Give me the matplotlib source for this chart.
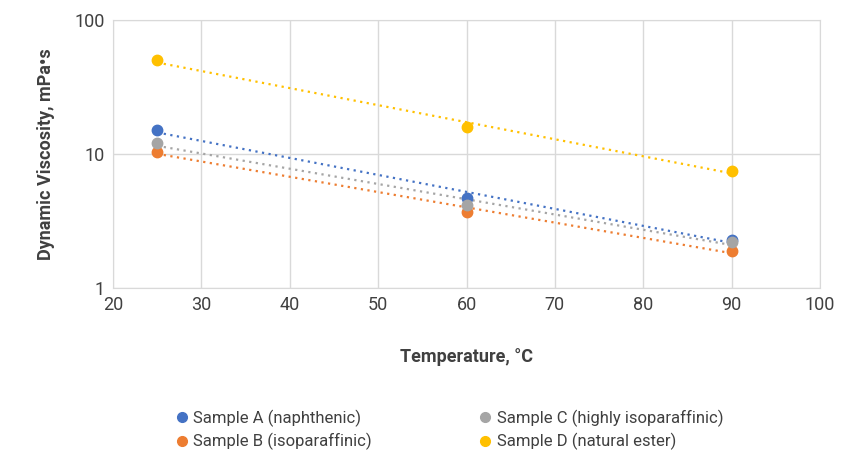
import numpy as np
import matplotlib
matplotlib.use("Agg")
import matplotlib.pyplot as plt
from matplotlib.lines import Line2D

plt.rcParams['font.family'] = ['Roboto', 'DejaVu Sans']

# Data
temps = [25, 60, 90]  # degC
sample_a = [15.2, 4.7, 2.3]
sample_b = [10.4, 3.7, 1.9]
sample_c = [12.0, 4.2, 2.2]
sample_d = [50.0, 15.9, 7.5]

labels = ['Sample A (naphthenic)', 'Sample B (isoparaffinic)',
          'Sample C (highly isoparaffinic)', 'Sample D (natural ester)']
colors = ['#4472C4', '#ED7D31', '#A5A5A5', '#FFC000']
series = [sample_a, sample_b, sample_c, sample_d]

fig = plt.figure(figsize=(8.56, 4.53), dpi=100)
ax = fig.add_axes([0.132, 0.364, 0.826, 0.592])

x = np.array(temps, dtype=float)
xfit = np.linspace(x.min(), x.max(), 100)
for vals, col in zip(series, colors):
    # exponential trend line, like a spreadsheet trendline
    k, b = np.polyfit(x, np.log(vals), 1)
    ax.plot(xfit, np.exp(b + k * xfit), linestyle=(0, (1, 2)), color=col, lw=1.6, zorder=2)
    ax.plot(x, vals, 'o', color=col, ms=7.5, zorder=3)

ax.set_yscale('log')
ax.set_xlim(20, 100)
ax.set_ylim(1, 100)
ax.set_xticks(range(20, 101, 10))
ax.set_yticks([1, 10, 100])
ax.set_yticklabels(['1', '10', '100'])
ax.minorticks_off()
ax.grid(True, color='#D9D9D9', lw=1)
ax.set_axisbelow(True)
for s in ax.spines.values():
    s.set_color('#D9D9D9')
ax.tick_params(length=0, labelsize=13, colors='#404040', pad=6)

ax.set_xlabel('Temperature, °C', fontsize=13, fontweight='bold', color='#404040', labelpad=24)
ax.set_ylabel('Dynamic Viscosity, mPa•s', fontsize=13, fontweight='bold', color='#404040', labelpad=14)

handles = [Line2D([], [], marker='o', ls='', color=c, ms=7) for c in colors]
fig.legend(handles, labels, ncol=2, loc='lower left', bbox_to_anchor=(0.185, -0.027),
           frameon=False, fontsize=12, labelcolor='#404040', handletextpad=0.2,
           columnspacing=6.3, labelspacing=0.35, handlelength=1.0)

fig.savefig('out.png', dpi=100)
